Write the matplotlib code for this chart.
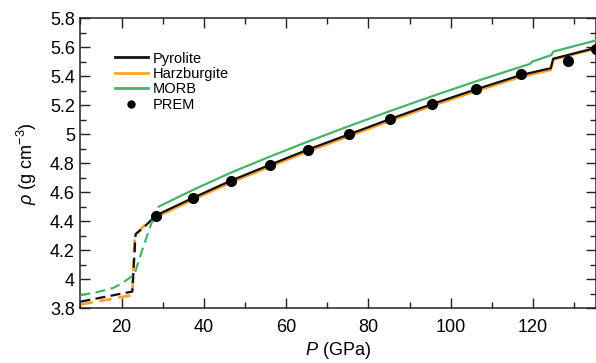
import matplotlib
matplotlib.use("Agg")
import matplotlib.pyplot as plt
from matplotlib.ticker import MultipleLocator
from matplotlib.lines import Line2D

plt.rcParams['font.family'] = ['Liberation Sans', 'DejaVu Sans']
plt.rcParams['mathtext.fontset'] = 'custom'
plt.rcParams['mathtext.rm'] = 'Liberation Sans'
plt.rcParams['mathtext.it'] = 'Liberation Sans:italic'

# ---- data ----
# Pyrolite
pyr_low_P = [10, 22.6, 23.4, 25.5, 28]
pyr_low_rho = [3.845, 3.915, 4.31, 4.36, 4.43]
pyr_P = [28, 37.3, 46.6, 56, 65.4, 75.2, 85.3, 95.5, 106.2, 117.1, 124.3, 124.9, 135.5]
pyr_rho = [4.435, 4.56, 4.68, 4.788, 4.895, 4.998, 5.105, 5.208, 5.31, 5.408, 5.455, 5.52, 5.597]

# Harzburgite
harz_low_P = [10, 22.6, 23.2, 26.3, 28]
harz_low_rho = [3.825, 3.89, 4.305, 4.39, 4.425]
harz_P = [28, 37.3, 46.6, 56, 65.4, 75.2, 85.3, 95.5, 106.2, 117.1, 124.3, 124.9, 135.5]
harz_rho = [4.423, 4.548, 4.668, 4.776, 4.883, 4.986, 5.093, 5.196, 5.298, 5.396, 5.443, 5.515, 5.592]

# MORB
morb_low_P = [10, 14, 18, 20, 22, 23.2, 25, 27.3, 28.5]
morb_low_rho = [3.89, 3.91, 3.94, 3.97, 4.01, 4.04, 4.20, 4.39, 4.47]
morb_P = [29, 37.3, 46.6, 56, 65.4, 75.2, 85.3, 95.5, 106.2, 117.1, 119.3, 119.8, 124.4, 125.0, 135.5]
morb_rho = [4.50, 4.615, 4.735, 4.845, 4.95, 5.055, 5.16, 5.262, 5.365, 5.465, 5.485, 5.50, 5.545, 5.57, 5.648]

# PREM
prem_P = [28.3, 37.3, 46.6, 56, 65.4, 75.2, 85.3, 95.5, 106.2, 117.1, 128.5, 135.3]
prem_rho = [4.434, 4.557, 4.675, 4.786, 4.894, 4.998, 5.103, 5.207, 5.308, 5.412, 5.505, 5.585]

x_ticks = [20, 40, 60, 80, 100, 120]
y_ticks = [3.8, 4.0, 4.2, 4.4, 4.6, 4.8, 5.0, 5.2, 5.4, 5.6, 5.8]
y_ticklabels = ['3.8', '4', '4.2', '4.4', '4.6', '4.8', '5', '5.2', '5.4', '5.6', '5.8']

c_pyr = '#111111'
c_harz = '#f7a52c'
c_morb = '#45b46a'

fig = plt.figure(figsize=(5.96, 3.63), dpi=100)
ax = fig.add_axes([0.135, 0.151, 0.865, 0.799])

lw = 1.6
dash = (4.5, 2.4)
# Harzburgite (bottom)
ax.plot(harz_low_P, harz_low_rho, color=c_harz, lw=lw + 0.4, dashes=dash, zorder=2)
ax.plot(harz_P, harz_rho, color=c_harz, lw=lw + 0.4, zorder=2)
# Pyrolite
ax.plot(pyr_low_P, pyr_low_rho, color=c_pyr, lw=lw, dashes=dash, zorder=3)
ax.plot(pyr_P, pyr_rho, color=c_pyr, lw=lw, zorder=3)
# MORB
ax.plot(morb_low_P, morb_low_rho, color=c_morb, lw=lw, dashes=dash, zorder=3)
ax.plot(morb_P, morb_rho, color=c_morb, lw=lw, zorder=3)
# PREM
ax.plot(prem_P, prem_rho, 'o', color='black', ms=7, zorder=4, clip_on=True)

ax.set_xlim(10, 135.3)
ax.set_ylim(3.8, 5.8)
ax.set_xticks(x_ticks)
ax.set_yticks(y_ticks)
ax.set_yticklabels(y_ticklabels)
ax.xaxis.set_minor_locator(MultipleLocator(10))
ax.yaxis.set_minor_locator(MultipleLocator(0.1))
ax.tick_params(which='both', direction='in', top=True, right=True, labelsize=13,
               color='#222222', width=1.0)
ax.tick_params(which='major', length=7)
ax.tick_params(which='minor', length=4)
ax.tick_params(axis='x', which='major', pad=8)
ax.tick_params(axis='y', which='major', pad=4)
for s in ax.spines.values():
    s.set_linewidth(1.1)
    s.set_color('#222222')

ax.set_xlabel(r'$P$ (GPa)', fontsize=13, labelpad=3)
ax.set_ylabel(r'$\rho$ (g cm$^{-3}$)', fontsize=13, labelpad=8)

handles = [Line2D([], [], color=c_pyr, lw=2),
           Line2D([], [], color=c_harz, lw=2),
           Line2D([], [], color=c_morb, lw=2),
           Line2D([], [], ls='none', marker='o', color='black', ms=5)]
ax.legend(handles, ['Pyrolite', 'Harzburgite', 'MORB', 'PREM'], loc='upper left',
          bbox_to_anchor=(0.055, 0.905), frameon=False, fontsize=10.5,
          handlelength=2.3, handletextpad=0.3, labelspacing=0.1, borderaxespad=0)

fig.savefig('out.png', dpi=100)
